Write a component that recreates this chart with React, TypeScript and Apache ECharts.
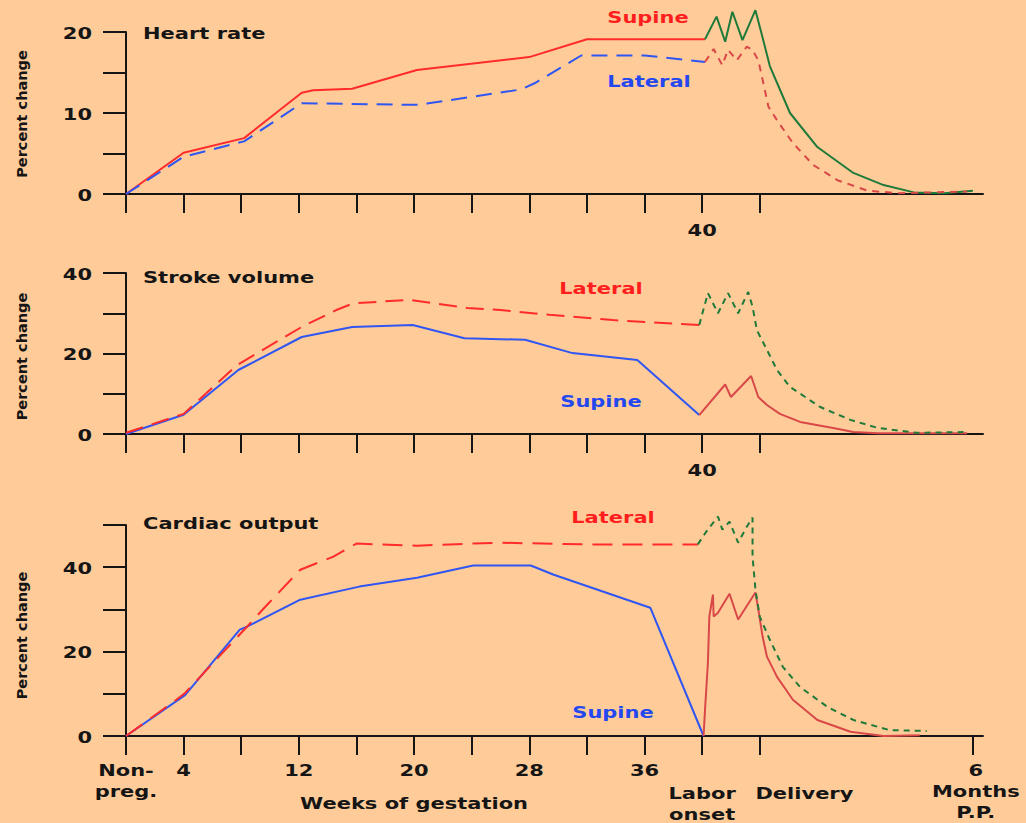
import React, { useEffect, useRef } from "react";
import * as echarts from "echarts";

// x axis unit: weeks (0 = non-pregnant, 40 = labor onset, 44 = delivery, 58.8 = 6 months post partum)
const weekTicks = [0, 4, 8, 12, 16, 20, 24, 28, 32, 36, 40, 44];
const ppTick = 58.8;
const X_MAX = 59.5;

const bottomXLabels = [
  { v: 0, text: "Non-\npreg.", row: 1 },
  { v: 4, text: "4", row: 1 },
  { v: 12, text: "12", row: 1 },
  { v: 20, text: "20", row: 1 },
  { v: 28, text: "28", row: 1 },
  { v: 36, text: "36", row: 1 },
  { v: 40, text: "Labor\nonset", row: 2 },
  { v: 47.1, text: "Delivery", row: 2 },
  { v: 59.0, text: "6\nMonths\nP.P.", row: 1 },
];
const upperXLabels = [{ v: 40, text: "40" }];

const yLabelValues = [
  [0, 10, 20],
  [0, 20, 40],
  [0, 20, 40],
];
const yMax = [20, 40, 50];
const yStep = [5, 10, 10];

const panelTitles = ["Heart rate", "Stroke volume", "Cardiac output"];

// Heart rate (% change)
const hrSupine = [
  [0, 0], [4, 5.1], [8.2, 6.9], [12.2, 12.5], [13, 12.8], [15.7, 13.0],
  [20.2, 15.3], [28, 16.9], [32, 19.1], [40.2, 19.1],
];
const hrLateral = [
  [0, 0], [4, 4.6], [8.2, 6.5], [12.2, 11.2], [20.5, 11.0], [21, 11.2],
  [27.4, 12.9], [28.4, 13.7], [31.6, 17.1], [36, 17.1], [40.2, 16.3],
];
const hrSupineLabor = [
  [40.2, 19.1], [41, 21.9], [41.6, 18.8], [42.1, 22.5], [42.8, 19], [43.7, 22.7],
  [44.2, 19.3], [44.7, 15.8], [46.1, 10], [48, 5.8], [50.5, 2.6], [52.6, 1.1],
  [54.7, 0.2], [56.8, 0.1], [58.8, 0.4],
];
const hrLateralLabor = [
  [40.2, 16.3], [40.8, 17.9], [41.4, 15.9], [41.8, 17.8], [42.4, 16.5], [43.1, 18.2],
  [43.5, 17.8], [43.9, 16.5], [44.2, 14.1], [44.6, 10.8], [45.2, 9.1], [46.3, 6.3],
  [47.7, 3.6], [49.4, 1.7], [51.5, 0.4], [53.7, 0.1], [58.4, 0.3],
];

// Stroke volume (% change)
const svSupine = [
  [0, 0], [4, 4.8], [7.8, 15.9], [12.2, 24.1], [15.7, 26.6], [19.9, 27.1],
  [23.5, 23.8], [27.7, 23.4], [31, 20.1], [35.5, 18.4], [39.8, 4.7],
];
const svLateral = [
  [0, 0.3], [4, 5], [7.7, 17.1], [12.2, 26.6], [14.6, 30.8], [15.8, 32.5],
  [19.7, 33.3], [23.7, 31.3], [26, 30.8], [29.4, 29.6], [33.8, 28.3], [36.2, 27.8],
  [39.8, 27.1],
];
const svSupineLabor = [
  [39.8, 4.7], [41.6, 12.3], [42.0, 9.2], [43.4, 14.4], [43.9, 9.2], [44.5, 7.2],
  [45.4, 5.0], [46.8, 3.0], [49.1, 1.5], [50.5, 0.5], [52.2, 0.2], [58.4, 0.2],
];
const svLateralLabor = [
  [39.8, 27.1], [40.4, 35], [41.1, 30], [41.8, 35], [42.5, 30], [43.2, 35.3],
  [43.5, 31.6], [43.8, 25.8], [44.5, 20.9], [45.2, 15.9], [46.1, 11.7], [48.2, 6.7],
  [50.3, 3.5], [52.2, 1.5], [54.9, 0.3], [58.4, 0.5],
];

// Cardiac output (% change)
const coSupine = [
  [0, 0], [4.1, 9.7], [7.9, 25.2], [8.4, 25.9], [12.1, 32.3], [16.2, 35.4],
  [20.2, 37.5], [24.1, 40.4], [28.1, 40.4], [29.7, 38.2], [36.4, 30.4], [40.1, 0],
];
const coLateral = [
  [0, 0], [3.3, 8.1], [4.1, 10.2], [8.4, 25.9], [9.8, 31.1], [12.1, 39.4],
  [14.4, 42.5], [16, 45.6], [20.2, 45.1], [24.1, 45.6], [26, 45.8], [32.2, 45.4],
  [39.7, 45.4],
];
const coSupineLabor = [
  [40.1, 0], [40.2, 6.2], [40.4, 17.3], [40.5, 28.3], [40.75, 33.5], [40.8, 28.3],
  [41.1, 29.2], [41.9, 33.7], [42.5, 27.6], [43.7, 34.0], [43.9, 30.0], [44.2, 23.5],
  [44.5, 18.8], [45.2, 14], [46.3, 8.6], [48, 3.8], [50.3, 1], [52.6, 0], [55.1, 0.2],
];
const coLateralLabor = [
  [39.7, 45.4], [40.3, 48.5], [41.1, 52], [41.4, 48.9], [41.9, 50.8], [42.5, 45.8],
  [43.1, 49.6], [43.5, 51.8], [43.5, 42.5], [43.7, 34.7], [44, 28.3], [44.7, 22.8],
  [45.6, 16.4], [46.8, 11.6], [48.7, 6.9], [50.5, 3.8], [53, 1.4], [55.6, 1.2],
];

const BG = "#FFCC99";
const AX = "#151515";
const RED = "#FF2B2B";
const BLUE = "#2F55F2";
const GREEN = "#1F7A3A";
const BROWN = "#D94848";
const RED_TXT = "#FF1E1E";
const BLUE_TXT = "#2448F0";
const FONT = '"DejaVu Sans", sans-serif';
const SX = 1.4;

const grids = [
  { left: 126, top: 32, width: 857, height: 162 },
  { left: 126, top: 273, width: 857, height: 161 },
  { left: 126, top: 525, width: 857, height: 211 },
];

function lineSeries(gi: number, data: number[][], color: string, dash?: number[]) {
  return {
    type: "line",
    xAxisIndex: gi,
    yAxisIndex: gi,
    data,
    symbol: "none",
    clip: false,
    silent: true,
    z: 3,
    lineStyle: { color, width: 2, type: dash ? dash : "solid", cap: "butt" },
  };
}

function text(
  t: string,
  x: number,
  y: number,
  color: string,
  align: string,
  vAlign: string,
  size = 15,
  scaleX = SX,
  rotation = 0,
  lineHeight = 21
) {
  return {
    type: "text",
    x,
    y,
    scaleX,
    rotation,
    silent: true,
    z: 10,
    style: {
      text: t,
      fill: color,
      fontSize: size,
      fontWeight: "bold",
      fontFamily: FONT,
      align,
      verticalAlign: vAlign,
      textAlign: align,
      textVerticalAlign: vAlign,
      lineHeight,
    },
  };
}

export default function App() {
  const ref = useRef<HTMLDivElement>(null);

  useEffect(() => {
    if (!ref.current) return;
    const chart = echarts.init(ref.current, undefined, { renderer: "svg" });

    const xAxes = grids.map((_, i) => ({
      gridIndex: i,
      type: "value",
      min: 0,
      max: X_MAX,
      axisLine: { show: true, onZero: false, lineStyle: { color: AX, width: 2 } },
      axisTick: {
        show: true,
        inside: false,
        length: 19,
        customValues: i === 2 ? [...weekTicks, ppTick] : weekTicks,
        lineStyle: { color: AX, width: 2 },
      },
      axisLabel: { show: false },
      splitLine: { show: false },
    }));

    const yAxes = grids.map((_, i) => ({
      gridIndex: i,
      type: "value",
      min: 0,
      max: yMax[i],
      interval: yStep[i],
      axisLine: { show: true, lineStyle: { color: AX, width: 2 } },
      axisTick: { show: true, inside: false, length: 23, lineStyle: { color: AX, width: 2 } },
      axisLabel: { show: false },
      splitLine: { show: false },
    }));

    chart.setOption({
      animation: false,
      backgroundColor: BG,
      grid: grids,
      xAxis: xAxes,
      yAxis: yAxes,
      series: [
        lineSeries(0, hrSupine, RED),
        lineSeries(0, hrLateral, BLUE, [16, 9]),
        lineSeries(0, hrSupineLabor, GREEN),
        lineSeries(0, hrLateralLabor, BROWN, [7, 6]),
        lineSeries(1, svSupine, BLUE),
        lineSeries(1, svLateral, RED, [18, 9]),
        lineSeries(1, svSupineLabor, BROWN),
        lineSeries(1, svLateralLabor, GREEN, [6, 5]),
        lineSeries(2, coSupine, BLUE),
        lineSeries(2, coLateral, RED, [20, 10]),
        lineSeries(2, coSupineLabor, BROWN),
        lineSeries(2, coLateralLabor, GREEN, [6, 5]),
      ],
    });

    const toPx = (gi: number, x: number, y: number) =>
      chart.convertToPixel({ gridIndex: gi } as any, [x, y]) as number[];

    const g: any[] = [];
    // y tick labels
    yLabelValues.forEach((vals, gi) => {
      vals.forEach((v) => {
        const p = toPx(gi, 0, v);
        g.push(text(String(v), p[0] - 34, p[1] + 1.5, AX, "right", "middle"));
      });
      // y axis name
      const top = toPx(gi, 0, yMax[gi]);
      const bot = toPx(gi, 0, 0);
      const cy = (top[1] + bot[1]) / 2 + [1, 3, 5][gi];
      g.push(text("Percent change", 22, cy, AX, "center", "middle", 14.5, 1, Math.PI / 2));
      // panel title
      g.push(text(panelTitles[gi], 143, [34, 278, 524][gi], AX, "left", "middle"));
    });
    // "40" labels in upper panels
    [0, 1].forEach((gi) => {
      upperXLabels.forEach((l) => {
        const p = toPx(gi, l.v, 0);
        g.push(text(l.text, p[0], p[1] + 37, AX, "center", "middle"));
      });
    });
    // bottom x labels
    bottomXLabels.forEach((l) => {
      const p = toPx(2, l.v, 0);
      const top = p[1] + (l.row === 1 ? 24 : 47);
      g.push(text(l.text, p[0], top, AX, "center", "top"));
    });
    const axisMid = toPx(2, 20, 0);
    g.push(text("Weeks of gestation", 414, axisMid[1] + 68, AX, "center", "middle"));

    // curve labels
    g.push(text("Supine", 648, 18, RED_TXT, "center", "middle"));
    g.push(text("Lateral", 649, 82, BLUE_TXT, "center", "middle"));
    g.push(text("Lateral", 601, 289, RED_TXT, "center", "middle"));
    g.push(text("Supine", 601, 402, BLUE_TXT, "center", "middle"));
    g.push(text("Lateral", 613, 518, RED_TXT, "center", "middle"));
    g.push(text("Supine", 613, 713, BLUE_TXT, "center", "middle"));

    chart.setOption({ graphic: g });

    return () => chart.dispose();
  }, []);

  return (
    <div
      ref={ref}
      style={{ position: "fixed", left: 0, top: 0, width: 1026, height: 823, background: BG }}
    />
  );
}
